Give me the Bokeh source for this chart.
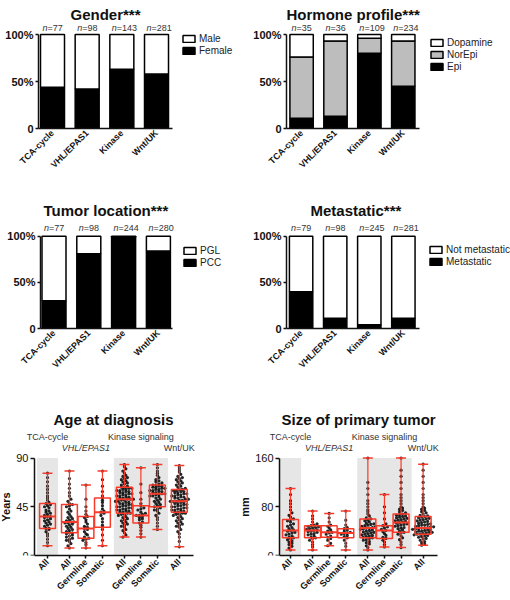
import math
import numpy as np
from bokeh.plotting import figure
from bokeh.layouts import column, row
from bokeh.models import FixedTicker, Legend, LegendItem, Range1d
from bokeh.core.properties import value
from bokeh.embed import file_html
from bokeh.resources import INLINE

FONT = "Liberation Sans"
RED = "#fa3a28"
BAND = "#e6e6e6"
INK = "#111111"

# ---------------- data: stacked bar charts (percent of patients) ----------------
groups = ["TCA-cycle", "VHL/EPAS1", "Kinase", "Wnt/UK"]

gender_n = [77, 98, 143, 281]
gender_female = [44, 42, 63, 58]
gender_male = [56, 58, 37, 42]

hormone_n = [35, 36, 109, 234]
hormone_epi = [11, 13, 80, 45]
hormone_norepi = [65, 80, 16, 48]
hormone_dopamine = [24, 7, 4, 7]

location_n = [77, 98, 244, 280]
location_pcc = [30, 81, 99, 84]
location_pgl = [70, 19, 1, 16]

metastatic_n = [79, 98, 245, 281]
metastatic_yes = [40, 11, 4, 11]
metastatic_no = [60, 89, 96, 89]

pct_ticks = [0, 50, 100]
pct_labels = ["0", "50%", "100%"]

# ---------------- data: box / swarm charts ----------------
group_names = ["TCA-cycle", "VHL/EPAS1", "Kinase signaling", "Wnt/UK"]
sub_labels = ["All", "All", "Germline", "Somatic", "All", "Germline", "Somatic", "All"]
sub_group = [0, 1, 1, 1, 2, 2, 2, 3]

age_ticks = [0, 45, 90]
age_min = [9, 7, 7, 9, 17, 17, 24, 8]
age_q1 = [25, 21, 16, 26, 39, 30, 45, 40]
age_med = [36, 31, 25, 40, 52, 37, 57, 50]
age_q3 = [48, 47, 36, 53, 63, 46, 65, 61]
age_max = [76, 78, 65, 78, 84, 81, 84, 83]

age_tca_all = [9, 12, 15, 18, 20, 22, 24, 25, 25, 27, 28, 29, 30, 31, 32, 33, 34, 35, 36, 36,
               37, 38, 39, 40, 41, 42, 44, 45, 46, 47, 48, 49, 51, 53, 55, 58, 61, 64, 68, 72, 76]
age_vhl_all = [7, 9, 11, 13, 14, 15, 16, 17, 18, 19, 20, 21, 21, 22, 23, 24, 25, 26, 27, 28, 29,
               30, 30, 31, 31, 32, 33, 34, 35, 36, 38, 40, 41, 43, 45, 46, 47, 48, 50, 52, 55, 58,
               62, 66, 71, 78]
age_vhl_germ = [7, 10, 12, 14, 15, 16, 17, 19, 20, 22, 24, 25, 26, 27, 29, 31, 33, 35, 36, 38,
                41, 45, 52, 65]
age_vhl_som = [9, 14, 19, 24, 26, 28, 31, 34, 37, 39, 40, 41, 43, 46, 49, 51, 53, 55, 59, 64, 70, 78]
age_kin_all = [17, 19, 21, 23, 24, 26, 27, 28, 29, 30, 31, 32, 33, 34, 35, 36, 37, 38, 38, 39, 39,
               40, 40, 41, 41, 42, 42, 43, 43, 44, 44, 45, 45, 46, 46, 47, 47, 48, 48, 49, 49, 50,
               50, 51, 51, 52, 52, 52, 53, 53, 54, 54, 55, 55, 56, 56, 57, 57, 58, 58, 59, 59, 60,
               60, 61, 61, 62, 62, 63, 63, 64, 65, 66, 67, 68, 69, 70, 71, 72, 73, 74, 76, 78, 80,
               82, 84]
age_kin_germ = [17, 20, 23, 26, 28, 30, 31, 33, 34, 35, 36, 37, 37, 38, 39, 40, 42, 43, 44, 46, 48,
                52, 58, 66, 81]
age_kin_som = [24, 27, 30, 33, 35, 37, 39, 41, 42, 43, 44, 45, 46, 47, 48, 49, 50, 51, 52, 53, 54,
               55, 55, 56, 56, 57, 57, 58, 58, 59, 59, 60, 60, 61, 61, 62, 62, 63, 63, 64, 64, 65,
               65, 66, 67, 68, 69, 70, 72, 74, 76, 78, 81, 84]
age_wnt_all = [8, 13, 17, 20, 22, 24, 26, 27, 28, 29, 30, 31, 32, 33, 34, 35, 36, 37, 38, 38, 39,
               39, 40, 40, 41, 41, 42, 42, 43, 43, 44, 44, 45, 45, 46, 46, 47, 47, 48, 48, 49, 49,
               50, 50, 50, 51, 51, 52, 52, 53, 53, 54, 54, 55, 55, 56, 56, 57, 57, 58, 58, 59, 59,
               60, 60, 61, 61, 62, 63, 64, 65, 66, 67, 68, 69, 70, 71, 72, 73, 75, 77, 79, 81, 83]

size_ticks = [0, 80, 160]
size_min = [9, 9, 16, 9, 9, 14, 13, 17]
size_q1 = [29, 29, 30, 29, 29, 28, 38, 35]
size_med = [41, 41, 38, 37, 45, 41, 54, 45]
size_q3 = [59, 49, 49, 44, 60, 49, 68, 64]
size_max = [110, 73, 69, 73, 160, 100, 160, 150]

size_tca_all = [9, 12, 15, 18, 20, 22, 24, 26, 28, 29, 30, 32, 34, 35, 37, 38, 40, 41, 42, 44, 46,
                48, 50, 52, 55, 57, 59, 60, 63, 66, 70, 75, 80, 85, 90, 100, 110]
size_vhl_all = [9, 14, 18, 22, 25, 28, 29, 30, 32, 34, 35, 36, 38, 39, 40, 41, 42, 43, 44, 45, 46,
                47, 48, 49, 50, 52, 55, 60, 65, 73]
size_vhl_germ = [16, 20, 25, 28, 30, 32, 35, 37, 38, 40, 42, 45, 48, 50, 55, 62, 69]
size_vhl_som = [9, 15, 20, 25, 29, 31, 33, 35, 36, 37, 38, 40, 42, 44, 46, 50, 58, 73]
size_kin_all = [9, 13, 16, 19, 21, 23, 25, 26, 28, 29, 30, 31, 32, 33, 34, 35, 36, 37, 38, 39, 40,
                41, 42, 43, 44, 45, 45, 46, 47, 48, 49, 50, 51, 52, 53, 55, 57, 58, 60, 62, 65, 68,
                72, 75, 80, 85, 90, 100, 110, 120, 160]
size_kin_germ = [14, 18, 22, 25, 28, 30, 33, 36, 39, 41, 43, 45, 47, 49, 52, 60, 70, 80, 100]
size_kin_som = [13, 18, 22, 26, 29, 32, 35, 37, 38, 40, 42, 44, 45, 46, 48, 49, 50, 51, 52, 53, 54,
                55, 56, 57, 58, 59, 60, 61, 62, 63, 64, 65, 66, 67, 68, 70, 72, 74, 76, 78, 80, 85,
                90, 95, 100, 110, 120, 130, 140, 160]
size_wnt_all = [17, 19, 21, 23, 25, 27, 28, 30, 31, 32, 33, 34, 35, 35, 36, 37, 38, 38, 39, 40, 40,
                41, 42, 42, 43, 44, 44, 45, 45, 46, 47, 47, 48, 49, 50, 50, 51, 52, 53, 54, 55, 56,
                57, 58, 59, 60, 61, 62, 63, 64, 65, 66, 68, 70, 72, 74, 76, 78, 80, 85, 90, 95, 100,
                110, 120, 130, 140, 150]

age_values = [age_tca_all, age_vhl_all, age_vhl_germ, age_vhl_som,
              age_kin_all, age_kin_germ, age_kin_som, age_wnt_all]
size_values = [size_tca_all, size_vhl_all, size_vhl_germ, size_vhl_som,
               size_kin_all, size_kin_germ, size_kin_som, size_wnt_all]


def base_fig(width, height, bl, bt, fh, xr, yr):
    p = figure(width=width, height=height, x_range=xr, y_range=yr,
               min_border_left=bl, min_border_right=0,
               min_border_top=bt, min_border_bottom=height - bt - fh,
               toolbar_location=None, output_backend="svg")
    p.xgrid.visible = False
    p.ygrid.visible = False
    p.outline_line_color = None
    p.background_fill_color = "white"
    p.border_fill_color = "white"
    for ax in (p.xaxis[0], p.yaxis[0]):
        ax.axis_line_color = INK
        ax.axis_line_width = 1.5
        ax.major_tick_line_color = INK
        ax.major_tick_line_width = 1.5
        ax.minor_tick_line_color = None
        ax.major_tick_in = 0
        ax.major_label_text_font = FONT
        ax.major_label_text_color = INK
    return p


def set_title(p, text, offset, standoff):
    p.title.text = text
    p.title.align = "left"
    p.title.offset = offset
    p.title.text_font = FONT
    p.title.text_font_size = "15px"
    p.title.text_font_style = "bold"
    p.title.text_color = INK
    p.title.standoff = standoff


def n_labels(p, xs, y, n):
    # italic "n" followed by "=count", centred as a whole on each bar
    p.text(x=xs, y=[y] * len(xs), text=["n"] * len(xs), x_offset=-5, text_align="right",
           text_baseline="middle", text_font=value(FONT), text_font_size="9px",
           text_font_style="italic", text_color="#333333")
    p.text(x=xs, y=[y] * len(xs), text=["=%d" % v for v in n], x_offset=-5, text_align="left",
           text_baseline="middle", text_font=value(FONT), text_font_size="9px",
           text_color="#333333")


def bar_chart(title, n, layers, width, height, bl, bt, fh, frame_top_gap, axis_h,
              first_off, unit, axis_len, title_offset, n_gap, legend_xy, item_h):
    fw = width - bl
    x0 = -first_off / unit
    ppu = axis_h / 100.0
    p = base_fig(width, height, bl, bt, fh,
                 Range1d(x0, x0 + fw / unit), Range1d(0, 100 + frame_top_gap / ppu))
    set_title(p, title, title_offset, 0)
    xs = list(range(len(groups)))
    bottom = np.zeros(len(groups))
    items = []
    for name, vals, color in layers:
        top = bottom + np.array(vals, dtype=float)
        r = p.vbar(x=xs, width=24 / unit, bottom=bottom, top=top,
                   fill_color=color, line_color="black", line_width=1.5)
        items.append(LegendItem(label=name, renderers=[r]))
        bottom = top
    leg = Legend(items=items[::-1], location=legend_xy, orientation="vertical",
                 glyph_width=15, glyph_height=9, label_height=item_h,
                 spacing=1, padding=0, margin=0, label_standoff=3,
                 label_text_font=FONT, label_text_font_size="10px",
                 label_text_color="#222222", border_line_color=None,
                 background_fill_alpha=0)
    p.add_layout(leg, "center")

    n_labels(p, xs, 100 + n_gap / ppu, n)

    ya = p.yaxis[0]
    ya.bounds = (0, 100)
    ya.ticker = FixedTicker(ticks=pct_ticks)
    ya.major_label_overrides = {t: l for t, l in zip(pct_ticks, pct_labels)}
    ya.major_label_text_font_size = "11px"
    ya.major_label_text_font_style = "bold"
    ya.major_tick_out = 3
    ya.major_label_standoff = 2

    xa = p.xaxis[0]
    xa.bounds = (x0, x0 + axis_len / unit)
    xa.ticker = FixedTicker(ticks=xs)
    xa.major_label_overrides = {i: g for i, g in enumerate(groups)}
    xa.major_label_orientation = math.pi / 4
    xa.major_label_text_font_size = "9px"
    xa.major_label_text_font_style = "bold"
    xa.major_tick_out = 0
    xa.major_label_standoff = 3
    return p


def swarm(vals, center, ybin, dx):
    bins = {}
    for v in sorted(vals):
        bins.setdefault(int(round(v / ybin)), []).append(v)
    xs, ys = [], []
    for vs in bins.values():
        k = len(vs)
        for i, v in enumerate(vs):
            xs.append(center + (i - (k - 1) / 2) * dx)
            ys.append(v)
    return xs, ys


def box_chart(title, ylabel, ticks, values, mins, q1s, meds, q3s, maxs,
              width, height, bt, fh, frame_top_gap, axis_h,
              axis_off, first_off, unit, axis_len, title_offset, title_standoff):
    # the frame starts at the figure's left edge; the y axis is drawn at a fixed
    # location axis_off px inside it, so group labels may sit left of the axis
    ymax = ticks[-1]
    x0 = -first_off / unit
    x_axis = x0 + axis_off / unit
    ppu = axis_h / ymax
    p = base_fig(width, height, 0, bt, fh,
                 Range1d(x0, x0 + width / unit), Range1d(0, ymax + frame_top_gap / ppu))
    set_title(p, title, title_offset, title_standoff)
    gap = 0.33
    pos = [i + gap * g for i, g in enumerate(sub_group)]

    # shaded groups (1st and 3rd)
    for g in (0, 2):
        mem = [pos[i] for i in range(len(pos)) if sub_group[i] == g]
        p.quad(left=[min(mem) - 0.64], right=[max(mem) + 0.64], bottom=[0], top=[ymax],
               fill_color=BAND, line_color=None)

    # group labels, staggered in two lines
    for g, name in enumerate(group_names):
        mem = [pos[i] for i in range(len(pos)) if sub_group[i] == g]
        p.text(x=[sum(mem) / len(mem)], y=[ymax + (21 if g % 2 == 0 else 10) / ppu],
               text=[name], text_align="center", text_baseline="middle",
               text_font=value(FONT), text_font_size="9px",
               text_font_style="italic" if g == 1 else "normal", text_color="#333333")

    # dots
    sx, sy = [], []
    for i, vals in enumerate(values):
        a, b = swarm(vals, pos[i], 2.8 / ppu, 3.0 / unit)
        sx += a
        sy += b
    p.scatter(sx, sy, size=3.2, color="black", alpha=0.85, line_width=0)

    # whiskers and caps
    pos_a = np.array(pos)
    p.segment(x0=pos, y0=q3s, x1=pos, y1=maxs, line_color=RED, line_width=1.2)
    p.segment(x0=pos, y0=q1s, x1=pos, y1=mins, line_color=RED, line_width=1.2)
    p.segment(x0=pos_a - 0.3, y0=maxs, x1=pos_a + 0.3, y1=maxs, line_color=RED, line_width=1.5)
    p.segment(x0=pos_a - 0.3, y0=mins, x1=pos_a + 0.3, y1=mins, line_color=RED, line_width=1.5)
    # boxes and medians
    p.quad(left=pos_a - 0.48, right=pos_a + 0.48, bottom=q1s, top=q3s,
           fill_color=None, line_color=RED, line_width=1.5)
    p.segment(x0=pos_a - 0.48, y0=meds, x1=pos_a + 0.48, y1=meds, line_color=RED, line_width=2)

    ya = p.yaxis[0]
    ya.fixed_location = x_axis
    ya.bounds = (0, ymax)
    ya.ticker = FixedTicker(ticks=ticks)
    ya.major_label_text_font_size = "11px"
    ya.major_tick_out = 4
    ya.major_label_standoff = 2
    ya.axis_label = ylabel
    ya.axis_label_text_font = FONT
    ya.axis_label_text_font_size = "11px"
    ya.axis_label_text_font_style = "bold"
    ya.axis_label_text_color = INK
    ya.axis_label_standoff = 1

    xa = p.xaxis[0]
    xa.bounds = (x_axis, x_axis + axis_len / unit)
    xa.ticker = FixedTicker(ticks=pos)
    xa.major_label_overrides = {pp: l for pp, l in zip(pos, sub_labels)}
    xa.major_label_orientation = math.pi / 4
    xa.major_label_text_font_size = "9px"
    xa.major_label_text_font_style = "bold"
    xa.major_tick_out = 3
    xa.major_label_standoff = 2
    return p


# row 1: figure rows are y 0..178, frame from y=22 (100% at 34) to y=128
p_gender = bar_chart("Gender***", gender_n,
                     [("Female", gender_female, "black"), ("Male", gender_male, "white")],
                     250, 178, 38, 22, 106, 12, 94, 14, 34.67, 134, 32, 7, (143, 72), 9)
p_hormone = bar_chart("Hormone profile***", hormone_n,
                      [("Epi", hormone_epi, "black"), ("NorEpi", hormone_norepi, "#bdbdbd"),
                       ("Dopamine", hormone_dopamine, "white")],
                      260, 178, 30, 22, 106, 12, 94, 15.5, 34.8, 137, 0, 7, (143, 56), 10)
# row 2: y 178..376, frame from y=218 (100% at 236) to y=329
p_location = bar_chart("Tumor location***", location_n,
                       [("PCC", location_pcc, "black"), ("PGL", location_pgl, "white")],
                       250, 198, 40, 40, 111, 18, 93, 13.5, 34.8, 132, 3, 8, (142, 60), 9)
p_metastatic = bar_chart("Metastatic***", metastatic_n,
                         [("Metastatic", metastatic_yes, "black"),
                          ("Not metastatic", metastatic_no, "white")],
                         260, 198, 30, 40, 111, 18, 93, 15, 35, 137, 24, 8, (142, 61), 11)
# row 3: y 376..598, frame from y=428 (top value at 458) to y=557
p_age = box_chart("Age at diagnosis", "Years", age_ticks, age_values,
                  age_min, age_q1, age_med, age_q3, age_max,
                  240, 222, 52, 129, 30, 99, 34, 47, 16.5, 159, 53, 2)
p_size = box_chart("Size of primary tumor", "mm", size_ticks, size_values,
                   size_min, size_q1, size_med, size_q3, size_max,
                   270, 222, 52, 129, 30, 99, 39, 50, 16.6, 158, 41, 2)

layout = column(row(p_gender, p_hormone), row(p_location, p_metastatic), row(p_age, p_size))

with open("out.html", "w") as f:
    f.write(file_html(layout, INLINE))
